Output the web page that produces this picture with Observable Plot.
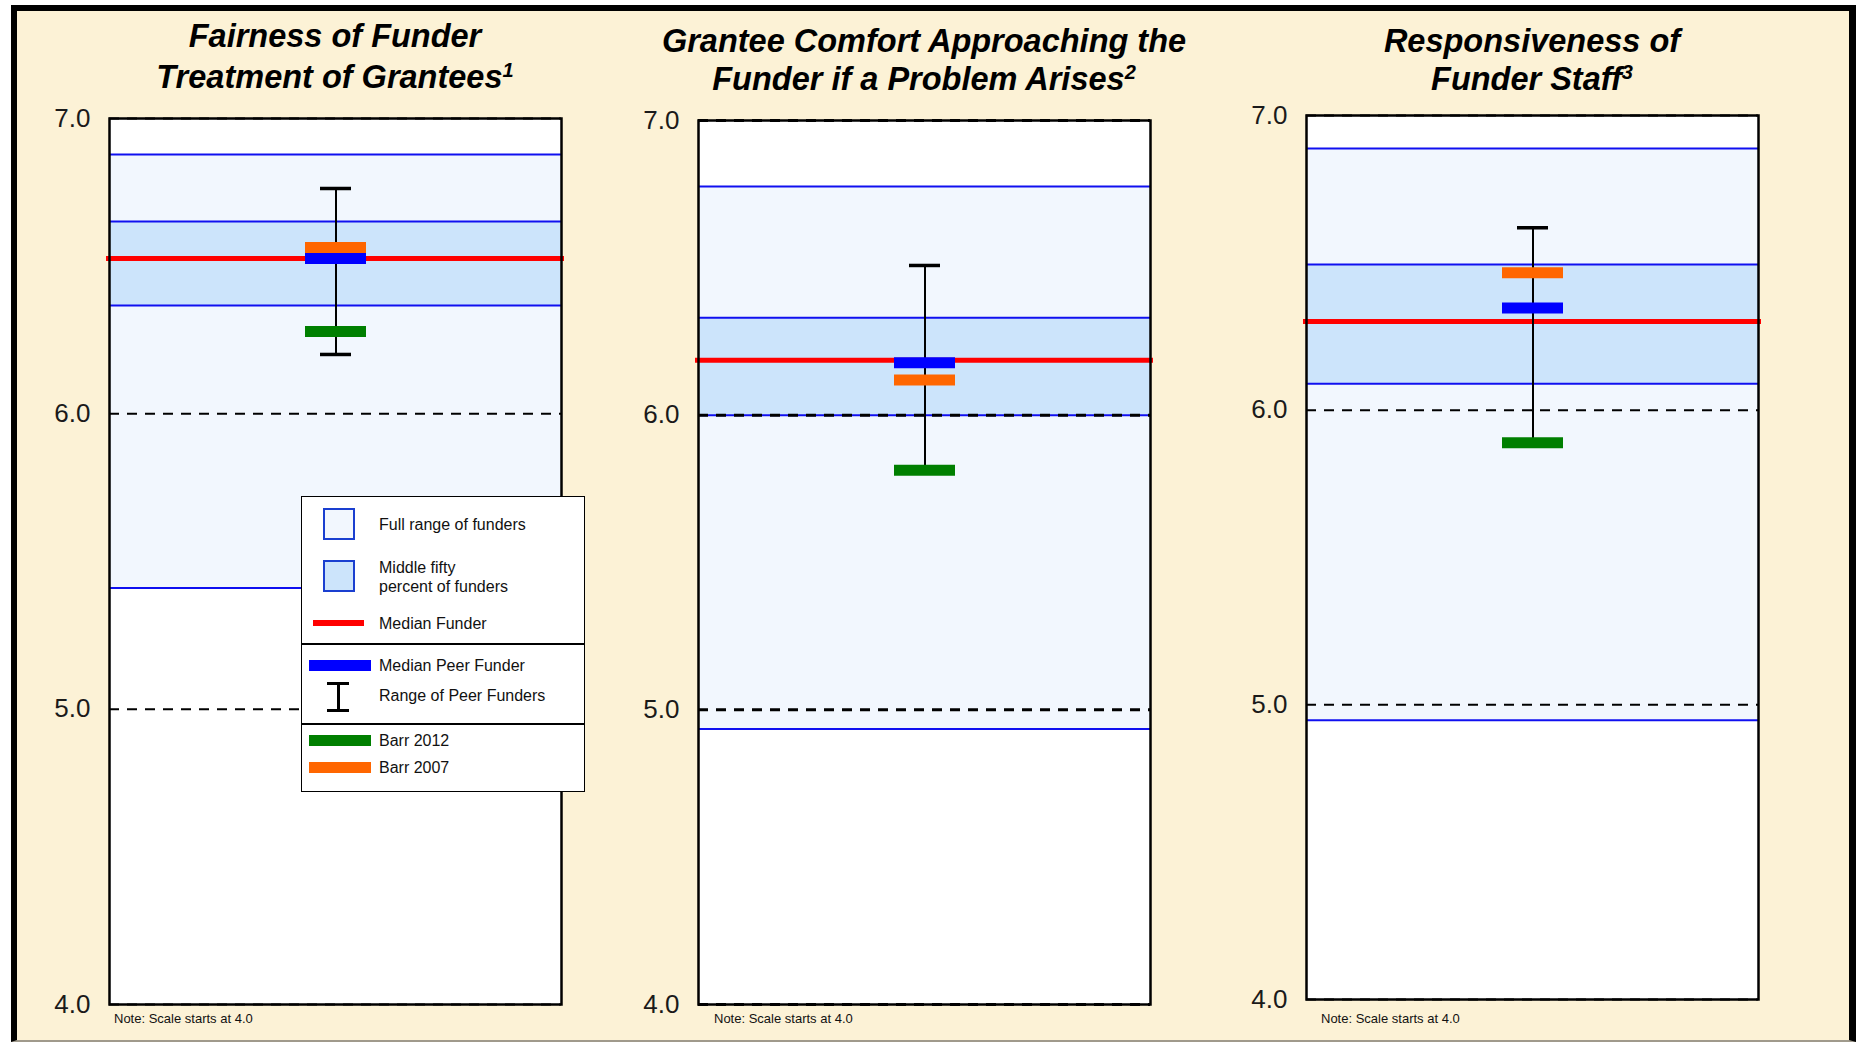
<!DOCTYPE html>
<html>
<head>
<meta charset="utf-8">
<script src="https://cdn.jsdelivr.net/npm/d3@7"></script>
<script src="https://cdn.jsdelivr.net/npm/@observablehq/plot@0.6"></script>
<style>
  body { margin: 0; background: #ffffff; font-family: "Liberation Sans", Arial, sans-serif; }
  #root { position: relative; width: 1856px; height: 1042px; overflow: hidden; background: #fff; }
  #frame { position: absolute; left: 11px; top: 5px; width: 1845px; height: 1037px; box-sizing: border-box;
           background: #FCF2D6; border-left: 6px solid #000; border-top: 6px solid #000; border-right: 7px solid #000;
           border-bottom: 2px solid #a09a8c; }
  .title { position: absolute; width: 700px; text-align: center; font-weight: bold; font-style: italic;
           font-size: 32.5px; color: #000; white-space: nowrap; letter-spacing: 0px; transform: translate(-50%, -50%); }
  .title sup { font-size: 20px; vertical-align: 11px; line-height: 0; }
  .panel { position: absolute; }
  .note { position: absolute; font-size: 13px; color: #111; white-space: nowrap; transform: translateY(-50%); }
  #legend { position: absolute; background: #fff; border: 1.5px solid #000; box-sizing: border-box; }
  .lg-text { position: absolute; font-size: 16px; color: #111; white-space: nowrap; transform: translateY(-50%); line-height: 19px; }
  .lg-div { position: absolute; left: 0; right: 0; height: 0; border-top: 2px solid #000; }
  .lg-sw { position: absolute; box-sizing: border-box; }
</style>
</head>
<body>
<div id="root"><div id="frame"></div></div>
<script>
// ---------------- data ----------------
const panelNames = ["Fairness", "Comfort", "Responsiveness"];
const titleLine1 = ["Fairness of Funder", "Grantee Comfort Approaching the", "Responsiveness of"];
const titleLine2 = ["Treatment of Grantees", "Funder if a Problem Arises", "Funder Staff"];
const footnoteMarks = ["1", "2", "3"];
const fullRangeLow  = [5.41, 4.935, 4.948];
const fullRangeHigh = [6.878, 6.776, 6.888];
const middleFiftyLow  = [6.367, 6.0, 6.09];
const middleFiftyHigh = [6.651, 6.331, 6.494];
const medianFunder = [6.526, 6.186, 6.301];
const medianPeer   = [6.526, 6.178, 6.347];
const peerRangeLow  = [6.201, 5.813, 5.889];
const peerRangeHigh = [6.763, 6.508, 6.619];
const barr2012 = [6.279, 5.813, 5.889];
const barr2007 = [6.563, 6.119, 6.466];
const yTicks = [4, 5, 6, 7];
const yDomain = [4, 7];
const noteText = "Note: Scale starts at 4.0";
const legendLabels = ["Full range of funders", "Middle fifty", "percent of funders", "Median Funder",
                      "Median Peer Funder", "Range of Peer Funders", "Barr 2012", "Barr 2007"];

// ---------------- styles / layout ----------------
const C = { full: "#F2F7FE", mid: "#CCE4FB", edge: "#1010F0", red: "#FF0000", blue: "#0000FF",
            green: "#007F00", orange: "#FF6600" };
const layout = [
  { left: 109,  top: 118, bottom: 1004, t1: 36, t2: 77, dash: 2, noteDx: 5 },
  { left: 698,  top: 120, bottom: 1004, t1: 41, t2: 79, dash: 3, noteDx: 16 },
  { left: 1306, top: 115, bottom: 999,  t1: 41, t2: 79, dash: 2, noteDx: 15 }
];
const boxW = 452, barW = 61;
const mL = 80, mR = 12, mT = 8, mB = 8;
const root = document.getElementById("root");
const fmt = d3.format(".1f");

panelNames.forEach((name, i) => {
  const L = layout[i];
  const plotH = L.bottom - L.top;
  const row = { cat: name };
  const fullRows = [{ lo: fullRangeLow[i], hi: fullRangeHigh[i] }];
  const midRows = [{ lo: middleFiftyLow[i], hi: middleFiftyHigh[i] }];
  const peerRows = [{ cat: name, lo: peerRangeLow[i], hi: peerRangeHigh[i] }];
  const capRows = [{ cat: name, v: peerRangeLow[i] }, { cat: name, v: peerRangeHigh[i] }];
  const po = (boxW / barW - 1) / 2;

  const svg = Plot.plot({
    width: mL + boxW + mR,
    height: mT + plotH + mB,
    marginLeft: mL, marginRight: mR, marginTop: mT, marginBottom: mB,
    style: { background: "transparent", fontFamily: "Liberation Sans, Arial, sans-serif", overflow: "visible" },
    x: { type: "band", domain: [name], paddingInner: 0, paddingOuter: po, axis: null },
    y: { domain: yDomain, axis: null },
    marks: [
      Plot.frame({ fill: "#ffffff" }),
      Plot.rect(fullRows, { y1: "lo", y2: "hi", fill: C.full }),
      Plot.rect(midRows, { y1: "lo", y2: "hi", fill: C.mid }),
      Plot.ruleY(fullRows, { y: "lo", stroke: C.edge, strokeWidth: 2 }),
      Plot.ruleY(fullRows, { y: "hi", stroke: C.edge, strokeWidth: 2 }),
      Plot.ruleY(midRows, { y: "lo", stroke: C.edge, strokeWidth: 2 }),
      Plot.ruleY(midRows, { y: "hi", stroke: C.edge, strokeWidth: 2 }),
      Plot.ruleY(yTicks, { stroke: "#000", strokeWidth: L.dash, strokeDasharray: "10,8" }),
      Plot.ruleY([medianFunder[i]], { stroke: C.red, strokeWidth: 5, insetLeft: -3, insetRight: -3 }),
      Plot.ruleX(peerRows, { x: "cat", y1: "lo", y2: "hi", stroke: "#000", strokeWidth: 2 }),
      Plot.tickY(capRows, { x: "cat", y: "v", stroke: "#000", strokeWidth: 3.5, insetLeft: 15, insetRight: 15 }),
      Plot.tickY([{ ...row, v: barr2012[i] }], { x: "cat", y: "v", stroke: C.green, strokeWidth: 11 }),
      Plot.tickY([{ ...row, v: medianPeer[i] }], { x: "cat", y: "v", stroke: C.blue, strokeWidth: 11 }),
      Plot.tickY([{ ...row, v: barr2007[i] }], { x: "cat", y: "v", stroke: C.orange, strokeWidth: 11 }),
      Plot.frame({ stroke: "#000", strokeWidth: 2.5 }),
      Plot.axisY(yTicks, { tickSize: 0, tickPadding: 19, fontSize: 26, tickFormat: fmt, fill: "#1a1a1a", label: null })
    ]
  });
  svg.classList.add("panel");
  svg.style.left = (L.left - mL) + "px";
  svg.style.top = (L.top - mT) + "px";
  root.appendChild(svg);

  const cx = L.left + boxW / 2;
  const t1 = document.createElement("div");
  t1.className = "title"; t1.textContent = titleLine1[i];
  t1.style.left = cx + "px"; t1.style.top = L.t1 + "px";
  root.appendChild(t1);
  const t2 = document.createElement("div");
  t2.className = "title";
  t2.innerHTML = titleLine2[i] + "<sup>" + footnoteMarks[i] + "</sup>";
  t2.style.left = cx + "px"; t2.style.top = L.t2 + "px";
  root.appendChild(t2);

  const note = document.createElement("div");
  note.className = "note"; note.textContent = noteText;
  note.style.left = (L.left + L.noteDx) + "px"; note.style.top = "1018px";
  root.appendChild(note);
});

// ---------------- legend ----------------
const lg = document.createElement("div");
lg.id = "legend";
Object.assign(lg.style, { left: "301px", top: "496px", width: "284px", height: "296px" });
root.appendChild(lg);
function add(el, css) { Object.assign(el.style, css); lg.appendChild(el); return el; }
function text(t, x, y) { const d = document.createElement("div"); d.className = "lg-text"; d.textContent = t; return add(d, { left: x + "px", top: y + "px" }); }
function box(css) { const d = document.createElement("div"); d.className = "lg-sw"; return add(d, css); }
const tx = 77;
box({ left: "21px", top: "11px", width: "32px", height: "32px", background: C.full, border: "2px solid #1a3fd0" });
text(legendLabels[0], tx, 27);
box({ left: "21px", top: "63px", width: "32px", height: "32px", background: C.mid, border: "2px solid #1a3fd0" });
text(legendLabels[1], tx, 70);
text(legendLabels[2], tx, 89);
box({ left: "11px", top: "123px", width: "51px", height: "6px", background: C.red });
text(legendLabels[3], tx, 126);
add(Object.assign(document.createElement("div"), { className: "lg-div" }), { top: "146px" });
box({ left: "7px", top: "163px", width: "62px", height: "11px", background: C.blue });
text(legendLabels[4], tx, 168);
box({ left: "25px", top: "185px", width: "22px", height: "3px", background: "#000" });
box({ left: "35px", top: "185px", width: "2.5px", height: "30px", background: "#000" });
box({ left: "25px", top: "212px", width: "22px", height: "3px", background: "#000" });
text(legendLabels[5], tx, 198);
add(Object.assign(document.createElement("div"), { className: "lg-div" }), { top: "226px" });
box({ left: "7px", top: "238px", width: "62px", height: "11px", background: C.green });
text(legendLabels[6], tx, 243);
box({ left: "7px", top: "265px", width: "62px", height: "11px", background: C.orange });
text(legendLabels[7], tx, 270);
</script>
</body>
</html>
